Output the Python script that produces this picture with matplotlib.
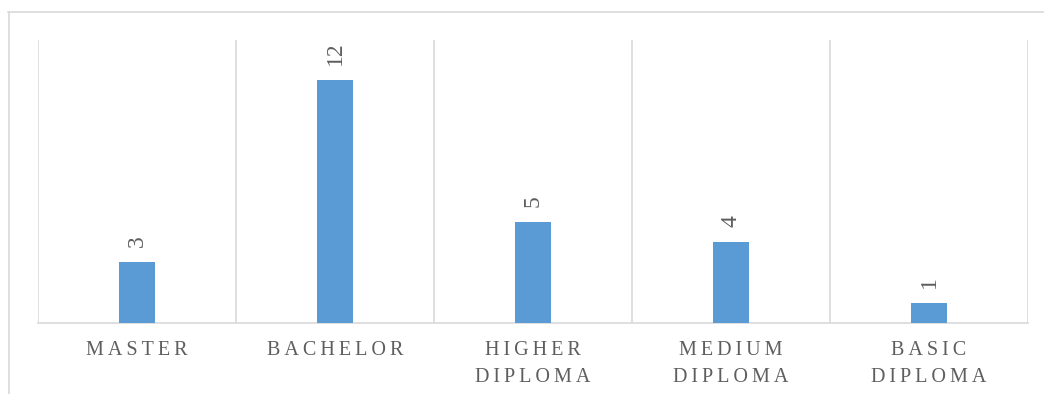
import matplotlib
matplotlib.use("Agg")
import matplotlib.pyplot as plt
from matplotlib.lines import Line2D

categories = ["MASTER", "BACHELOR", "HIGHER\nDIPLOMA", "MEDIUM\nDIPLOMA", "BASIC\nDIPLOMA"]
values = [3, 12, 5, 4, 1]

BAR = "#5B9BD5"
GRID = "#D9D9D9"
TXT = "#5E5E5E"
FONT = "Liberation Serif"

def spaced(s):
    return "\n".join("\u2009".join(list(line)) for line in s.split("\n"))

W, H = 1044, 394
fig = plt.figure(figsize=(W / 100, H / 100), dpi=100)
ax = fig.add_axes([38 / W, 1 - 323 / H, (1028 - 38) / W, (323 - 40) / H])

x = list(range(len(categories)))
ax.bar(x, values, width=0.18, color=BAR, zorder=3)
ax.set_xlim(-0.5, len(categories) - 0.5)
ax.set_ylim(0, 14)

for b in [i - 0.5 for i in range(len(categories) + 1)]:
    ax.axvline(b, color=GRID, lw=1.2, zorder=1)

for s in ["top", "right", "left"]:
    ax.spines[s].set_visible(False)
ax.spines["bottom"].set_color(GRID)
ax.spines["bottom"].set_linewidth(1.2)
ax.set_yticks([])
ax.set_xticks(x)
ax.set_xticklabels([spaced(c) for c in categories], fontfamily=FONT, fontsize=14.5,
                   color=TXT, linespacing=1.55, va="top")
ax.tick_params(axis="x", length=0, pad=13)

for xi, v in zip(x, values):
    ax.annotate(str(v), (xi, v), xytext=(0, 15), textcoords="offset pixels",
                rotation=90, ha="center", va="bottom", fontfamily=FONT,
                fontsize=17, color=TXT)

fig.add_artist(Line2D([8.5 / W, 8.5 / W], [0, 1 - 11.5 / H], transform=fig.transFigure,
                      color=GRID, lw=1.2))
fig.add_artist(Line2D([8 / W, 1], [1 - 11.5 / H, 1 - 11.5 / H], transform=fig.transFigure,
                      color=GRID, lw=1.2))

fig.savefig("out.png", dpi=100)
